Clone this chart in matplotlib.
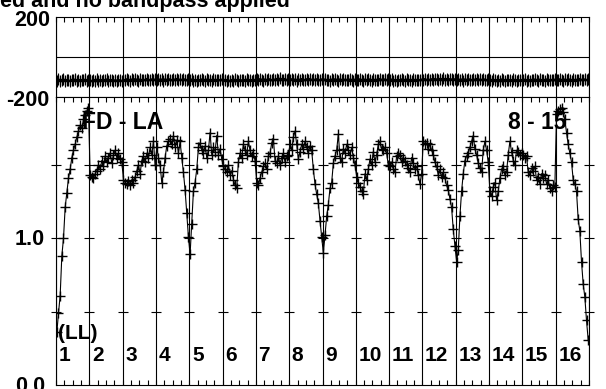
import numpy as np
import matplotlib
matplotlib.use('Agg')
import matplotlib.pyplot as plt

# Amplitude per channel, 20 channels in each IF
amp_01 = [0.36, 0.49, 0.61, 0.88, 1.00, 1.21, 1.31, 1.41, 1.47, 1.55, 1.60, 1.64, 1.69, 1.73, 1.77, 1.75, 1.81, 1.84, 1.87, 1.89]
amp_02 = [1.43, 1.42, 1.41, 1.44, 1.46, 1.50, 1.47, 1.53, 1.49, 1.56, 1.52, 1.55, 1.58, 1.51, 1.57, 1.60, 1.55, 1.58, 1.54, 1.52]
amp_03 = [1.40, 1.38, 1.37, 1.39, 1.36, 1.40, 1.38, 1.42, 1.46, 1.50, 1.44, 1.53, 1.56, 1.52, 1.58, 1.55, 1.62, 1.57, 1.66, 1.50]
amp_04 = [1.62, 1.55, 1.50, 1.38, 1.45, 1.55, 1.63, 1.66, 1.68, 1.64, 1.70, 1.62, 1.67, 1.58, 1.66, 1.55, 1.45, 1.33, 1.17, 1.01]
amp_05 = [0.89, 1.10, 1.32, 1.38, 1.47, 1.62, 1.65, 1.60, 1.58, 1.63, 1.55, 1.60, 1.72, 1.57, 1.62, 1.59, 1.70, 1.57, 1.61, 1.54]
amp_06 = [1.49, 1.47, 1.45, 1.50, 1.43, 1.46, 1.40, 1.36, 1.34, 1.52, 1.58, 1.55, 1.64, 1.60, 1.57, 1.66, 1.60, 1.56, 1.58, 1.53]
amp_07 = [1.38, 1.36, 1.41, 1.45, 1.49, 1.51, 1.47, 1.56, 1.58, 1.65, 1.68, 1.53, 1.51, 1.56, 1.50, 1.55, 1.58, 1.52, 1.56, 1.57]
amp_08 = [1.64, 1.60, 1.69, 1.73, 1.64, 1.54, 1.59, 1.64, 1.61, 1.66, 1.62, 1.58, 1.63, 1.60, 1.47, 1.37, 1.30, 1.24, 1.12, 1.01]
amp_09 = [0.90, 1.02, 1.15, 1.23, 1.34, 1.38, 1.51, 1.56, 1.60, 1.71, 1.55, 1.52, 1.61, 1.58, 1.64, 1.60, 1.57, 1.62, 1.55, 1.50]
amp_10 = [1.42, 1.38, 1.35, 1.32, 1.30, 1.44, 1.40, 1.47, 1.54, 1.50, 1.59, 1.52, 1.57, 1.64, 1.66, 1.61, 1.60, 1.62, 1.58, 1.50]
amp_11 = [1.49, 1.52, 1.47, 1.45, 1.56, 1.58, 1.57, 1.52, 1.55, 1.53, 1.50, 1.48, 1.45, 1.55, 1.51, 1.47, 1.49, 1.43, 1.37, 1.44]
amp_12 = [1.66, 1.64, 1.65, 1.61, 1.64, 1.60, 1.57, 1.52, 1.49, 1.43, 1.47, 1.42, 1.45, 1.41, 1.36, 1.33, 1.27, 1.21, 1.06, 0.95]
amp_13 = [0.84, 0.92, 1.15, 1.32, 1.44, 1.53, 1.56, 1.58, 1.62, 1.66, 1.70, 1.61, 1.57, 1.51, 1.48, 1.45, 1.60, 1.66, 1.60, 1.52]
amp_14 = [1.32, 1.29, 1.35, 1.38, 1.26, 1.32, 1.41, 1.47, 1.49, 1.43, 1.45, 1.57, 1.66, 1.59, 1.53, 1.50, 1.60, 1.59, 1.57, 1.58]
amp_15 = [1.57, 1.55, 1.56, 1.45, 1.43, 1.48, 1.46, 1.49, 1.40, 1.42, 1.37, 1.44, 1.41, 1.43, 1.37, 1.40, 1.34, 1.32, 1.36, 1.35]
amp_16 = [1.85, 1.87, 1.88, 1.89, 1.86, 1.81, 1.72, 1.64, 1.58, 1.52, 1.40, 1.37, 1.32, 1.13, 1.05, 0.84, 0.69, 0.60, 0.44, 0.31]

# Phase per channel (degrees)
phase_01 = [-118, -112, -120, -116, -110, -119, -114, -117, -121, -113, -116, -111, -118, -115, -120, -114, -117, -112, -119, -116]
phase_02 = [-117, -121, -114, -119, -112, -118, -115, -120, -113, -117, -111, -119, -116, -114, -121, -115, -118, -113, -117, -120]
phase_03 = [-113, -117, -110, -115, -119, -112, -116, -109, -114, -118, -111, -115, -113, -117, -108, -114, -116, -111, -115, -112]
phase_04 = [-114, -110, -116, -112, -118, -111, -115, -109, -113, -117, -110, -114, -108, -116, -112, -115, -110, -113, -117, -111]
phase_05 = [-116, -112, -118, -114, -120, -113, -117, -111, -115, -119, -112, -116, -114, -118, -111, -116, -113, -117, -115, -112]
phase_06 = [-117, -113, -119, -115, -121, -114, -118, -112, -116, -120, -113, -117, -115, -119, -112, -117, -114, -118, -116, -113]
phase_07 = [-112, -116, -109, -114, -118, -111, -115, -108, -113, -117, -110, -114, -112, -116, -107, -113, -115, -110, -114, -111]
phase_08 = [-114, -110, -116, -112, -118, -111, -115, -109, -113, -117, -110, -114, -108, -116, -112, -115, -110, -113, -117, -111]
phase_09 = [-115, -111, -117, -113, -119, -112, -116, -110, -114, -118, -111, -115, -109, -117, -113, -116, -111, -114, -118, -112]
phase_10 = [-113, -117, -110, -115, -119, -112, -116, -109, -114, -118, -111, -115, -113, -117, -108, -114, -116, -111, -115, -112]
phase_11 = [-116, -112, -118, -114, -120, -113, -117, -111, -115, -119, -112, -116, -114, -118, -111, -116, -113, -117, -115, -112]
phase_12 = [-113, -109, -115, -111, -117, -110, -114, -108, -112, -116, -109, -113, -107, -115, -111, -114, -109, -112, -116, -110]
phase_13 = [-114, -110, -116, -112, -118, -111, -115, -109, -113, -117, -110, -114, -108, -116, -112, -115, -110, -113, -117, -111]
phase_14 = [-115, -119, -112, -117, -121, -114, -118, -111, -116, -120, -113, -117, -115, -119, -110, -116, -118, -113, -117, -114]
phase_15 = [-116, -112, -118, -114, -120, -113, -117, -111, -115, -119, -112, -116, -114, -118, -111, -116, -113, -117, -115, -112]
phase_16 = [-113, -117, -110, -115, -119, -112, -116, -109, -114, -118, -111, -115, -113, -117, -108, -114, -116, -111, -115, -112]
phase_err = 30

if_labels = ['1', '2', '3', '4', '5', '6', '7', '8', '9', '10', '11', '12', '13', '14', '15', '16']
n_chan = 20

amp = np.concatenate([amp_01, amp_02, amp_03, amp_04, amp_05, amp_06, amp_07, amp_08,
                      amp_09, amp_10, amp_11, amp_12, amp_13, amp_14, amp_15, amp_16])
phase = np.concatenate([phase_01, phase_02, phase_03, phase_04, phase_05, phase_06, phase_07, phase_08,
                        phase_09, phase_10, phase_11, phase_12, phase_13, phase_14, phase_15, phase_16])
n_if = len(if_labels)
x = np.arange(len(amp)) + 0.5
xmax = n_if * n_chan

font = dict(family='Liberation Sans', weight='bold')

fig = plt.figure(figsize=(6.06, 3.89), dpi=100)
W, H = 606, 389
ax_ph = fig.add_axes([56 / W, 1 - 97 / H, 533 / W, 80 / H])
ax_amp = fig.add_axes([56 / W, 1 - 385 / H, 533 / W, 288 / H])

# Phase panel
ax_ph.errorbar(x, phase, yerr=phase_err, fmt='+', ms=7, mew=0.9, color='k',
               ecolor='k', elinewidth=0.8, capsize=0)
ax_ph.plot(x, phase, color='k', lw=1.2)
ax_ph.axhline(0, color='k', lw=0.8)
ax_ph.set_ylim(-200, 200)

# Amplitude panel
ax_amp.plot(x, amp, color='k', lw=0.8)
ax_amp.plot(x, amp, '+', ms=7.5, mew=1.0, color='k')
ax_amp.set_ylim(0, 1.963)
for yv in [0.5, 1.0, 1.5]:
    ax_amp.plot(np.arange(n_if + 1) * n_chan, [yv] * (n_if + 1), '_', ms=7,
                mew=0.8, color='k', clip_on=False)

for ax in (ax_ph, ax_amp):
    ax.set_xlim(0, xmax)
    for k in range(n_if + 1):
        ax.axvline(k * n_chan, color='k', lw=0.8)
    for s in ax.spines.values():
        s.set_linewidth(0.8)
    ax.set_yticks([])
    ax.set_xticks(np.arange(n_if + 1) * n_chan)
    ax.set_xticks(np.arange(0, xmax + 1, n_chan / 4), minor=True)
    ax.tick_params(which='both', direction='in', length=3.5, width=0.8,
                   labelbottom=False, labeltop=False)

ax_ph.tick_params(which='both', top=True, bottom=False)
ax_amp.tick_params(which='both', top=True, bottom=True)

# IF numbers and annotations
for k, lab in enumerate(if_labels):
    ax_amp.text(k * n_chan + 1.6, 0.198, lab, fontsize=15, va='center', ha='left', **font)
ax_amp.text(1.0, 0.354, '(LL)', fontsize=15, va='center', ha='left', **font)
ax_amp.text(15.6, 1.786, 'FD - LA', fontsize=16.5, va='center', ha='left', **font)
ax_amp.text(306.6, 1.786, '8 - 15', fontsize=16.5, va='center', ha='right', **font)

# axis value labels
fig.text(50 / W, 1 - 20.5 / H, '200', fontsize=15.5, ha='right', va='center', **font)
fig.text(49 / W, 1 - 101 / H, '-200', fontsize=15.5, ha='right', va='center', **font)
fig.text(45 / W, 1 - 239.5 / H, '1.0', fontsize=15.5, ha='right', va='center', **font)
fig.text(45 / W, 1 - 386.5 / H, '0.0', fontsize=15.5, ha='right', va='center', **font)

# title (left part falls outside the page)
fig.text(290 / W, 1 - 7 / H, 'ed and no bandpass applied', fontsize=15.5,
         ha='right', va='baseline', **font)

fig.savefig('out.png', dpi=100)
